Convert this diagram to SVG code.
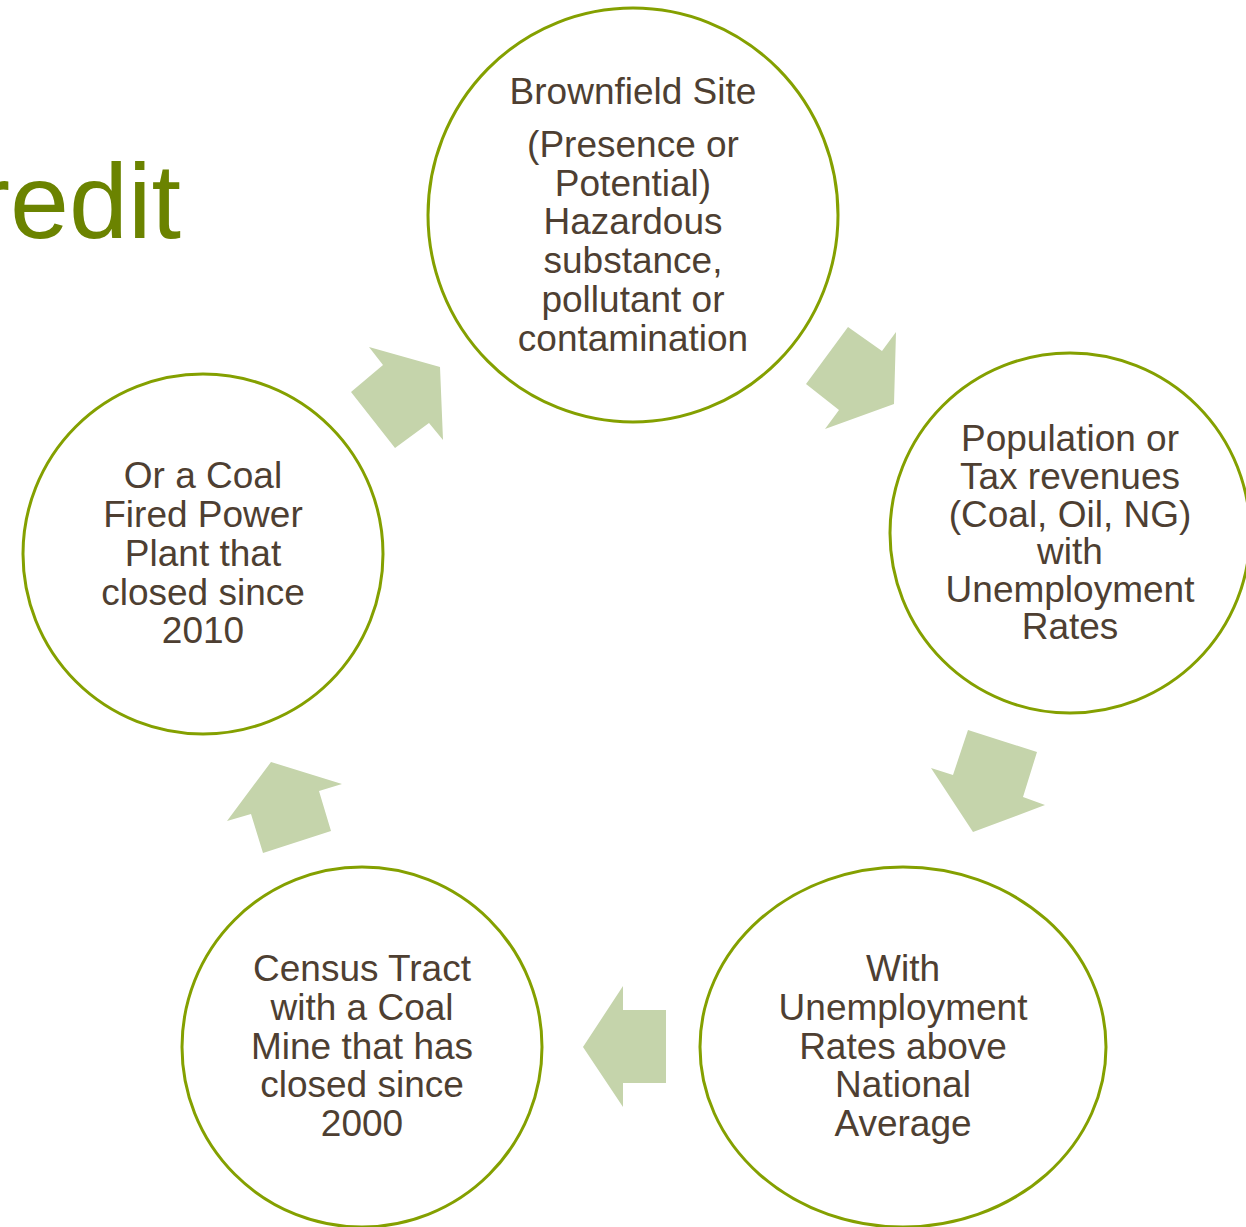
<svg xmlns="http://www.w3.org/2000/svg" width="1246" height="1227" viewBox="0 0 1246 1227">
<style>
.node{fill:#ffffff;stroke:#84a000;stroke-width:3}
.lbl{font-family:"Liberation Sans",Arial,sans-serif;font-size:37px;fill:#4e3f32;text-anchor:middle}
.arr{fill:#c5d4ab}
.title{font-family:"Liberation Sans",Arial,sans-serif;font-size:106px;fill:#6b8300;text-anchor:end}
</style>
<rect width="1246" height="1227" fill="#ffffff"/>
<text class="title" x="181" y="238">redit</text>
<g id="connectors">
<polygon class="arr" points="369,347 440,367 443,440 429,423 395,448 351,392 383,365"/>
<polygon class="arr" points="848,327 882,351 896,332 894,404 825,429 839,410 806,384"/>
<polygon class="arr" points="968,730 1037,752 1023,797 1045,805 973,832 931,768 953,775"/>
<polygon class="arr" points="623,986 623,1010 666,1010 666,1083 623,1083 623,1107 583,1047"/>
<polygon class="arr" points="271,762 342,784 319,791 331,831 263,853 251,814 227,821"/>
</g>
<g id="brownfield">
<ellipse class="node" cx="633" cy="215" rx="205" ry="207"/>
<text class="lbl" x="633" y="104">Brownfield Site</text>
<text class="lbl" x="633" y="157">(Presence or</text>
<text class="lbl" x="633" y="196">Potential)</text>
<text class="lbl" x="633" y="234">Hazardous</text>
<text class="lbl" x="633" y="273">substance,</text>
<text class="lbl" x="633" y="312">pollutant or</text>
<text class="lbl" x="633" y="351">contamination</text>
</g>
<g id="population">
<circle class="node" cx="1070" cy="533" r="180"/>
<text class="lbl" x="1070" y="451">Population or</text>
<text class="lbl" x="1070" y="489">Tax revenues</text>
<text class="lbl" x="1070" y="527">(Coal, Oil, NG)</text>
<text class="lbl" x="1070" y="564">with</text>
<text class="lbl" x="1070" y="602">Unemployment</text>
<text class="lbl" x="1070" y="639">Rates</text>
</g>
<g id="unemployment">
<ellipse class="node" cx="903" cy="1047" rx="203" ry="180"/>
<text class="lbl" x="903" y="981">With</text>
<text class="lbl" x="903" y="1020">Unemployment</text>
<text class="lbl" x="903" y="1059">Rates above</text>
<text class="lbl" x="903" y="1097">National</text>
<text class="lbl" x="903" y="1136">Average</text>
</g>
<g id="census">
<circle class="node" cx="362" cy="1047" r="180"/>
<text class="lbl" x="362" y="981">Census Tract</text>
<text class="lbl" x="362" y="1020">with a Coal</text>
<text class="lbl" x="362" y="1059">Mine that has</text>
<text class="lbl" x="362" y="1097">closed since</text>
<text class="lbl" x="362" y="1136">2000</text>
</g>
<g id="coalplant">
<circle class="node" cx="203" cy="554" r="180"/>
<text class="lbl" x="203" y="488">Or a Coal</text>
<text class="lbl" x="203" y="527">Fired Power</text>
<text class="lbl" x="203" y="566">Plant that</text>
<text class="lbl" x="203" y="605">closed since</text>
<text class="lbl" x="203" y="643">2010</text>
</g>
</svg>
